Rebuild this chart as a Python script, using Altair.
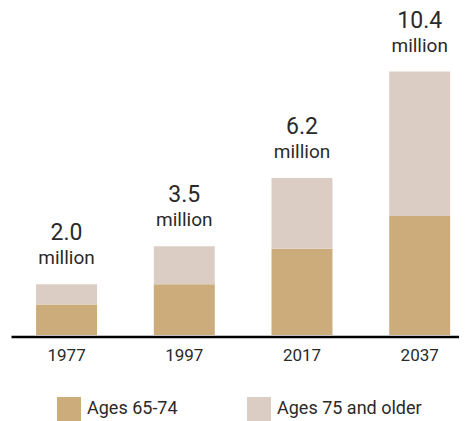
import altair as alt
import pandas as pd

years = ["1977", "1997", "2017", "2037"]
ages_65_74 = [1.2, 2.0, 3.4, 4.7]
ages_75_plus = [0.8, 1.5, 2.8, 5.7]
totals = [2.0, 3.5, 6.2, 10.4]
total_labels = ["2.0", "3.5", "6.2", "10.4"]
series = ["Ages 65-74", "Ages 75 and older"]
colors = ["#CDAC7C", "#DCCDC4"]

rows = []
for i, y in enumerate(years):
    rows.append({"year": y, "group": series[0], "value": ages_65_74[i], "ord": 0})
    rows.append({"year": y, "group": series[1], "value": ages_75_plus[i], "ord": 1})
df = pd.DataFrame(rows)
tot = pd.DataFrame({"year": years, "total": totals, "label": total_labels, "unit": ["million"] * 4})

FONT = "Roboto"
TXT = "#2a2a2a"

xscale = alt.Scale(paddingInner=0.482, paddingOuter=0.144, align=0.74)
yscale = alt.Scale(domain=[0, 12], nice=False)

bars = alt.Chart(df).mark_bar().encode(
    x=alt.X("year:N", scale=xscale, sort=years,
            axis=alt.Axis(title=None, labelAngle=0, ticks=False, domainColor="#000000",
                          domainWidth=2.5, offset=1.5, labelFontSize=17, labelFont=FONT,
                          labelColor=TXT, labelPadding=11, grid=False)),
    y=alt.Y("value:Q", scale=yscale, stack="zero", axis=None),
    color=alt.Color("group:N", scale=alt.Scale(domain=series, range=colors),
                    legend=alt.Legend(title=None, orient="none", legendX=46, legendY=366,
                                      direction="horizontal", symbolType="square",
                                      symbolSize=576, symbolStrokeWidth=0, symbolOpacity=1,
                                      labelFontSize=18, labelFont=FONT, labelColor=TXT,
                                      labelOffset=6, columnPadding=69, padding=0)),
    order=alt.Order("ord:Q"),
)

num = alt.Chart(tot).mark_text(dy=-44, baseline="alphabetic", fontSize=23, font=FONT, color=TXT).encode(
    x=alt.X("year:N", scale=xscale, sort=years),
    y=alt.Y("total:Q", scale=yscale),
    text="label:N",
)
unit = alt.Chart(tot).mark_text(dy=-20, baseline="alphabetic", fontSize=19, font=FONT, color=TXT).encode(
    x=alt.X("year:N", scale=xscale, sort=years),
    y=alt.Y("total:Q", scale=yscale),
    text="unit:N",
)

chart = alt.layer(bars, num, unit).properties(
    width=448, height=304,
    autosize=alt.AutoSizeParams(type="none"),
    padding={"left": 3, "top": 23, "right": 0, "bottom": 86},
).configure_view(stroke=None)

chart.save("out.html", embed_options={"renderer": "svg", "actions": False})
